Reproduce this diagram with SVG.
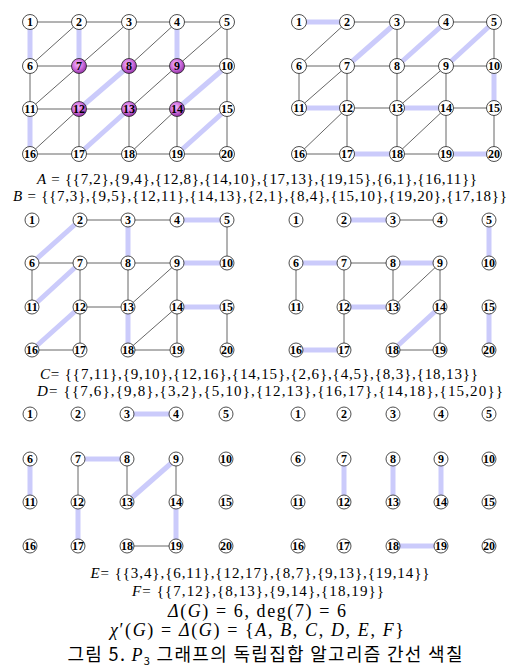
<svg xmlns="http://www.w3.org/2000/svg" width="513" height="670" viewBox="0 0 513 670">
<style>
.e{stroke:#555;stroke-width:0.9;fill:none}
.h{stroke:#cbcbfb;stroke-width:5;fill:none}
.n circle{fill:#fff;stroke:#222;stroke-width:0.8}
.p circle{fill:url(#pg)}
.n text{font-family:"Liberation Serif",serif;font-weight:bold;font-size:12px;text-anchor:middle;fill:#000}
.m{font-family:"Liberation Serif",serif;font-size:15px;text-anchor:middle;fill:#000}
.i{font-style:italic}
.cap{font-family:"Noto Sans CJK KR","Noto Sans",sans-serif;font-size:18px;text-anchor:middle;fill:#000}
</style>
<defs>
<radialGradient id="pg" cx="0.42" cy="0.38" r="0.62">
<stop offset="0" stop-color="#f4b8f8"/>
<stop offset="0.55" stop-color="#d070e0"/>
<stop offset="1" stop-color="#9434a6"/>
</radialGradient>
</defs>
<g id="connectors">
<g id="p1-edges">
<path class="h" d="M30 22V66M79 22V66M177 22V66M30 109V154M129 66L79 109M227 66L177 109M129 109L79 154M227 109L177 154"/>
<path class="e" d="M30 22H227M30 66H227M30 109H227M30 154H227M129 22V66M227 22V66M30 66V109M79 66V154M129 66V154M177 66V154M227 66V154M79 22L30 66M129 22L79 66M177 22L129 66M227 22L177 66M79 66L30 109M177 66L129 109M79 109L30 154M177 109L129 154"/>
</g>
<g id="p2-edges">
<path class="h" d="M299 22H347M397 22L347 66M446 22L397 66M494 22L446 66M494 66V108M299 108H347M397 108H446M347 154H397M446 154H494"/>
<path class="e" d="M347 22H494M347 22L299 66M397 22V66M494 22V66M299 66H494M299 66V108M347 66L299 108M347 66V108M397 66V108M446 66L397 108M446 66V108M347 108H397M446 108H494M347 108L299 154M347 108V154M397 108V154M446 108L397 154M446 108V154M494 108V154M299 154H347M397 154H446"/>
</g>
<g id="p3-edges">
<path class="h" d="M177 220H227M80 220L32 263M128 220V263M177 263H227M80 263L32 307M177 307H227M80 307L32 350M128 307V350"/>
<path class="e" d="M80 220H177M227 220V263M32 263H177M32 263V307M80 263V350M128 263V307M177 263L128 307M177 263V350M80 307H128M177 307L128 350M227 307V350M32 350H80M128 350H177"/>
</g>
<g id="p4-edges">
<path class="h" d="M344 220H393M489 220V263M296 263H344M393 263H440M344 307H393M440 307L393 350M489 307V350M296 350H344"/>
<path class="e" d="M393 220H440M344 263H393M296 263V307M344 263V350M393 263V307M440 263L393 307M440 263V350M393 350H440"/>
</g>
<g id="p5-edges">
<path class="h" d="M127 414H176M78 459H127M30 459V502M176 459L127 502M78 502V546M176 502V546"/>
<path class="e" d="M78 459V502M127 459V502M176 459V502M127 546H176"/>
</g>
<g id="p6-edges">
<path class="h" d="M344 459V502M393 459V502M441 459V502M393 546H441"/>
</g>
</g>
<g id="panel1">
<g id="p1-n1" class="n"><circle cx="30" cy="22" r="7.5"/><text x="30" y="26">1</text></g>
<g id="p1-n2" class="n"><circle cx="79" cy="22" r="7.5"/><text x="79" y="26">2</text></g>
<g id="p1-n3" class="n"><circle cx="129" cy="22" r="7.5"/><text x="129" y="26">3</text></g>
<g id="p1-n4" class="n"><circle cx="177" cy="22" r="7.5"/><text x="177" y="26">4</text></g>
<g id="p1-n5" class="n"><circle cx="227" cy="22" r="7.5"/><text x="227" y="26">5</text></g>
<g id="p1-n6" class="n"><circle cx="30" cy="66" r="7.5"/><text x="30" y="70">6</text></g>
<g id="p1-n7" class="n p"><circle cx="79" cy="66" r="7.5"/><text x="79" y="70">7</text></g>
<g id="p1-n8" class="n p"><circle cx="129" cy="66" r="7.5"/><text x="129" y="70">8</text></g>
<g id="p1-n9" class="n p"><circle cx="177" cy="66" r="7.5"/><text x="177" y="70">9</text></g>
<g id="p1-n10" class="n"><circle cx="227" cy="66" r="7.5"/><text x="227" y="70">10</text></g>
<g id="p1-n11" class="n"><circle cx="30" cy="109" r="7.5"/><text x="30" y="113">11</text></g>
<g id="p1-n12" class="n p"><circle cx="79" cy="109" r="7.5"/><text x="79" y="113">12</text></g>
<g id="p1-n13" class="n p"><circle cx="129" cy="109" r="7.5"/><text x="129" y="113">13</text></g>
<g id="p1-n14" class="n p"><circle cx="177" cy="109" r="7.5"/><text x="177" y="113">14</text></g>
<g id="p1-n15" class="n"><circle cx="227" cy="109" r="7.5"/><text x="227" y="113">15</text></g>
<g id="p1-n16" class="n"><circle cx="30" cy="154" r="7.5"/><text x="30" y="158">16</text></g>
<g id="p1-n17" class="n"><circle cx="79" cy="154" r="7.5"/><text x="79" y="158">17</text></g>
<g id="p1-n18" class="n"><circle cx="129" cy="154" r="7.5"/><text x="129" y="158">18</text></g>
<g id="p1-n19" class="n"><circle cx="177" cy="154" r="7.5"/><text x="177" y="158">19</text></g>
<g id="p1-n20" class="n"><circle cx="227" cy="154" r="7.5"/><text x="227" y="158">20</text></g>
</g>
<g id="panel2">
<g id="p2-n1" class="n"><circle cx="299" cy="22" r="7.5"/><text x="299" y="26">1</text></g>
<g id="p2-n2" class="n"><circle cx="347" cy="22" r="7.5"/><text x="347" y="26">2</text></g>
<g id="p2-n3" class="n"><circle cx="397" cy="22" r="7.5"/><text x="397" y="26">3</text></g>
<g id="p2-n4" class="n"><circle cx="446" cy="22" r="7.5"/><text x="446" y="26">4</text></g>
<g id="p2-n5" class="n"><circle cx="494" cy="22" r="7.5"/><text x="494" y="26">5</text></g>
<g id="p2-n6" class="n"><circle cx="299" cy="66" r="7.5"/><text x="299" y="70">6</text></g>
<g id="p2-n7" class="n"><circle cx="347" cy="66" r="7.5"/><text x="347" y="70">7</text></g>
<g id="p2-n8" class="n"><circle cx="397" cy="66" r="7.5"/><text x="397" y="70">8</text></g>
<g id="p2-n9" class="n"><circle cx="446" cy="66" r="7.5"/><text x="446" y="70">9</text></g>
<g id="p2-n10" class="n"><circle cx="494" cy="66" r="7.5"/><text x="494" y="70">10</text></g>
<g id="p2-n11" class="n"><circle cx="299" cy="108" r="7.5"/><text x="299" y="112">11</text></g>
<g id="p2-n12" class="n"><circle cx="347" cy="108" r="7.5"/><text x="347" y="112">12</text></g>
<g id="p2-n13" class="n"><circle cx="397" cy="108" r="7.5"/><text x="397" y="112">13</text></g>
<g id="p2-n14" class="n"><circle cx="446" cy="108" r="7.5"/><text x="446" y="112">14</text></g>
<g id="p2-n15" class="n"><circle cx="494" cy="108" r="7.5"/><text x="494" y="112">15</text></g>
<g id="p2-n16" class="n"><circle cx="299" cy="154" r="7.5"/><text x="299" y="158">16</text></g>
<g id="p2-n17" class="n"><circle cx="347" cy="154" r="7.5"/><text x="347" y="158">17</text></g>
<g id="p2-n18" class="n"><circle cx="397" cy="154" r="7.5"/><text x="397" y="158">18</text></g>
<g id="p2-n19" class="n"><circle cx="446" cy="154" r="7.5"/><text x="446" y="158">19</text></g>
<g id="p2-n20" class="n"><circle cx="494" cy="154" r="7.5"/><text x="494" y="158">20</text></g>
</g>
<g id="panel3">
<g id="p3-n1" class="n"><circle cx="32" cy="220" r="7"/><text x="32" y="224">1</text></g>
<g id="p3-n2" class="n"><circle cx="80" cy="220" r="7"/><text x="80" y="224">2</text></g>
<g id="p3-n3" class="n"><circle cx="128" cy="220" r="7"/><text x="128" y="224">3</text></g>
<g id="p3-n4" class="n"><circle cx="177" cy="220" r="7"/><text x="177" y="224">4</text></g>
<g id="p3-n5" class="n"><circle cx="227" cy="220" r="7"/><text x="227" y="224">5</text></g>
<g id="p3-n6" class="n"><circle cx="32" cy="263" r="7"/><text x="32" y="267">6</text></g>
<g id="p3-n7" class="n"><circle cx="80" cy="263" r="7"/><text x="80" y="267">7</text></g>
<g id="p3-n8" class="n"><circle cx="128" cy="263" r="7"/><text x="128" y="267">8</text></g>
<g id="p3-n9" class="n"><circle cx="177" cy="263" r="7"/><text x="177" y="267">9</text></g>
<g id="p3-n10" class="n"><circle cx="227" cy="263" r="7"/><text x="227" y="267">10</text></g>
<g id="p3-n11" class="n"><circle cx="32" cy="307" r="7"/><text x="32" y="311">11</text></g>
<g id="p3-n12" class="n"><circle cx="80" cy="307" r="7"/><text x="80" y="311">12</text></g>
<g id="p3-n13" class="n"><circle cx="128" cy="307" r="7"/><text x="128" y="311">13</text></g>
<g id="p3-n14" class="n"><circle cx="177" cy="307" r="7"/><text x="177" y="311">14</text></g>
<g id="p3-n15" class="n"><circle cx="227" cy="307" r="7"/><text x="227" y="311">15</text></g>
<g id="p3-n16" class="n"><circle cx="32" cy="350" r="7"/><text x="32" y="354">16</text></g>
<g id="p3-n17" class="n"><circle cx="80" cy="350" r="7"/><text x="80" y="354">17</text></g>
<g id="p3-n18" class="n"><circle cx="128" cy="350" r="7"/><text x="128" y="354">18</text></g>
<g id="p3-n19" class="n"><circle cx="177" cy="350" r="7"/><text x="177" y="354">19</text></g>
<g id="p3-n20" class="n"><circle cx="227" cy="350" r="7"/><text x="227" y="354">20</text></g>
</g>
<g id="panel4">
<g id="p4-n1" class="n"><circle cx="296" cy="220" r="7"/><text x="296" y="224">1</text></g>
<g id="p4-n2" class="n"><circle cx="344" cy="220" r="7"/><text x="344" y="224">2</text></g>
<g id="p4-n3" class="n"><circle cx="393" cy="220" r="7"/><text x="393" y="224">3</text></g>
<g id="p4-n4" class="n"><circle cx="440" cy="220" r="7"/><text x="440" y="224">4</text></g>
<g id="p4-n5" class="n"><circle cx="489" cy="220" r="7"/><text x="489" y="224">5</text></g>
<g id="p4-n6" class="n"><circle cx="296" cy="263" r="7"/><text x="296" y="267">6</text></g>
<g id="p4-n7" class="n"><circle cx="344" cy="263" r="7"/><text x="344" y="267">7</text></g>
<g id="p4-n8" class="n"><circle cx="393" cy="263" r="7"/><text x="393" y="267">8</text></g>
<g id="p4-n9" class="n"><circle cx="440" cy="263" r="7"/><text x="440" y="267">9</text></g>
<g id="p4-n10" class="n"><circle cx="489" cy="263" r="7"/><text x="489" y="267">10</text></g>
<g id="p4-n11" class="n"><circle cx="296" cy="307" r="7"/><text x="296" y="311">11</text></g>
<g id="p4-n12" class="n"><circle cx="344" cy="307" r="7"/><text x="344" y="311">12</text></g>
<g id="p4-n13" class="n"><circle cx="393" cy="307" r="7"/><text x="393" y="311">13</text></g>
<g id="p4-n14" class="n"><circle cx="440" cy="307" r="7"/><text x="440" y="311">14</text></g>
<g id="p4-n15" class="n"><circle cx="489" cy="307" r="7"/><text x="489" y="311">15</text></g>
<g id="p4-n16" class="n"><circle cx="296" cy="350" r="7"/><text x="296" y="354">16</text></g>
<g id="p4-n17" class="n"><circle cx="344" cy="350" r="7"/><text x="344" y="354">17</text></g>
<g id="p4-n18" class="n"><circle cx="393" cy="350" r="7"/><text x="393" y="354">18</text></g>
<g id="p4-n19" class="n"><circle cx="440" cy="350" r="7"/><text x="440" y="354">19</text></g>
<g id="p4-n20" class="n"><circle cx="489" cy="350" r="7"/><text x="489" y="354">20</text></g>
</g>
<g id="panel5">
<g id="p5-n1" class="n"><circle cx="30" cy="414" r="7"/><text x="30" y="418">1</text></g>
<g id="p5-n2" class="n"><circle cx="78" cy="414" r="7"/><text x="78" y="418">2</text></g>
<g id="p5-n3" class="n"><circle cx="127" cy="414" r="7"/><text x="127" y="418">3</text></g>
<g id="p5-n4" class="n"><circle cx="176" cy="414" r="7"/><text x="176" y="418">4</text></g>
<g id="p5-n5" class="n"><circle cx="226" cy="414" r="7"/><text x="226" y="418">5</text></g>
<g id="p5-n6" class="n"><circle cx="30" cy="459" r="7"/><text x="30" y="463">6</text></g>
<g id="p5-n7" class="n"><circle cx="78" cy="459" r="7"/><text x="78" y="463">7</text></g>
<g id="p5-n8" class="n"><circle cx="127" cy="459" r="7"/><text x="127" y="463">8</text></g>
<g id="p5-n9" class="n"><circle cx="176" cy="459" r="7"/><text x="176" y="463">9</text></g>
<g id="p5-n10" class="n"><circle cx="226" cy="459" r="7"/><text x="226" y="463">10</text></g>
<g id="p5-n11" class="n"><circle cx="30" cy="502" r="7"/><text x="30" y="506">11</text></g>
<g id="p5-n12" class="n"><circle cx="78" cy="502" r="7"/><text x="78" y="506">12</text></g>
<g id="p5-n13" class="n"><circle cx="127" cy="502" r="7"/><text x="127" y="506">13</text></g>
<g id="p5-n14" class="n"><circle cx="176" cy="502" r="7"/><text x="176" y="506">14</text></g>
<g id="p5-n15" class="n"><circle cx="226" cy="502" r="7"/><text x="226" y="506">15</text></g>
<g id="p5-n16" class="n"><circle cx="30" cy="546" r="7"/><text x="30" y="550">16</text></g>
<g id="p5-n17" class="n"><circle cx="78" cy="546" r="7"/><text x="78" y="550">17</text></g>
<g id="p5-n18" class="n"><circle cx="127" cy="546" r="7"/><text x="127" y="550">18</text></g>
<g id="p5-n19" class="n"><circle cx="176" cy="546" r="7"/><text x="176" y="550">19</text></g>
<g id="p5-n20" class="n"><circle cx="226" cy="546" r="7"/><text x="226" y="550">20</text></g>
</g>
<g id="panel6">
<g id="p6-n1" class="n"><circle cx="298" cy="414" r="7"/><text x="298" y="418">1</text></g>
<g id="p6-n2" class="n"><circle cx="344" cy="414" r="7"/><text x="344" y="418">2</text></g>
<g id="p6-n3" class="n"><circle cx="393" cy="414" r="7"/><text x="393" y="418">3</text></g>
<g id="p6-n4" class="n"><circle cx="441" cy="414" r="7"/><text x="441" y="418">4</text></g>
<g id="p6-n5" class="n"><circle cx="489" cy="414" r="7"/><text x="489" y="418">5</text></g>
<g id="p6-n6" class="n"><circle cx="298" cy="459" r="7"/><text x="298" y="463">6</text></g>
<g id="p6-n7" class="n"><circle cx="344" cy="459" r="7"/><text x="344" y="463">7</text></g>
<g id="p6-n8" class="n"><circle cx="393" cy="459" r="7"/><text x="393" y="463">8</text></g>
<g id="p6-n9" class="n"><circle cx="441" cy="459" r="7"/><text x="441" y="463">9</text></g>
<g id="p6-n10" class="n"><circle cx="489" cy="459" r="7"/><text x="489" y="463">10</text></g>
<g id="p6-n11" class="n"><circle cx="298" cy="502" r="7"/><text x="298" y="506">11</text></g>
<g id="p6-n12" class="n"><circle cx="344" cy="502" r="7"/><text x="344" y="506">12</text></g>
<g id="p6-n13" class="n"><circle cx="393" cy="502" r="7"/><text x="393" y="506">13</text></g>
<g id="p6-n14" class="n"><circle cx="441" cy="502" r="7"/><text x="441" y="506">14</text></g>
<g id="p6-n15" class="n"><circle cx="489" cy="502" r="7"/><text x="489" y="506">15</text></g>
<g id="p6-n16" class="n"><circle cx="298" cy="546" r="7"/><text x="298" y="550">16</text></g>
<g id="p6-n17" class="n"><circle cx="344" cy="546" r="7"/><text x="344" y="550">17</text></g>
<g id="p6-n18" class="n"><circle cx="393" cy="546" r="7"/><text x="393" y="550">18</text></g>
<g id="p6-n19" class="n"><circle cx="441" cy="546" r="7"/><text x="441" y="550">19</text></g>
<g id="p6-n20" class="n"><circle cx="489" cy="546" r="7"/><text x="489" y="550">20</text></g>
</g>
<g id="labels">
<text class="m" x="257" y="184" textLength="440" lengthAdjust="spacing"><tspan class="i">A</tspan> = {{7,2},{9,4},{12,8},{14,10},{17,13},{19,15},{6,1},{16,11}}</text>
<text class="m" x="260" y="201" textLength="494" lengthAdjust="spacing"><tspan class="i">B</tspan> = {{7,3},{9,5},{12,11},{14,13},{2,1},{8,4},{15,10},{19,20},{17,18}}</text>
<text class="m" x="259" y="379" textLength="438" lengthAdjust="spacing"><tspan class="i">C</tspan>= {{7,11},{9,10},{12,16},{14,15},{2,6},{4,5},{8,3},{18,13}}</text>
<text class="m" x="270" y="396" textLength="466" lengthAdjust="spacing"><tspan class="i">D</tspan>= {{7,6},{9,8},{3,2},{5,10},{12,13},{16,17},{14,18},{15,20}}</text>
<text class="m" x="260" y="578" textLength="339" lengthAdjust="spacing"><tspan class="i">E</tspan>= {{3,4},{6,11},{12,17},{8,7},{9,13},{19,14}}</text>
<text class="m" x="258" y="596" textLength="252" lengthAdjust="spacing"><tspan class="i">F</tspan>= {{7,12},{8,13},{9,14},{18,19}}</text>
<text class="m" x="257" y="617" style="font-size:18px" textLength="178" lengthAdjust="spacing"><tspan class="i">Δ</tspan>(<tspan class="i">G</tspan>) = 6, deg(7) = 6</text>
<text class="m" x="257" y="636" style="font-size:18px" textLength="294" lengthAdjust="spacing"><tspan class="i">χ</tspan>′(<tspan class="i">G</tspan>) = <tspan class="i">Δ</tspan>(<tspan class="i">G</tspan>) = {<tspan class="i">A</tspan>, <tspan class="i">B</tspan>, <tspan class="i">C</tspan>, <tspan class="i">D</tspan>, <tspan class="i">E</tspan>, <tspan class="i">F</tspan>}</text>
<text class="cap" x="265" y="661" textLength="395" lengthAdjust="spacing">그림 5. <tspan style="font-family:'Liberation Serif',serif;font-style:italic">P</tspan><tspan style="font-size:11px" dy="4">3</tspan><tspan dy="-4"> 그래프의 독립집합 알고리즘 간선 색칠</tspan></text>
</g>
</svg>
